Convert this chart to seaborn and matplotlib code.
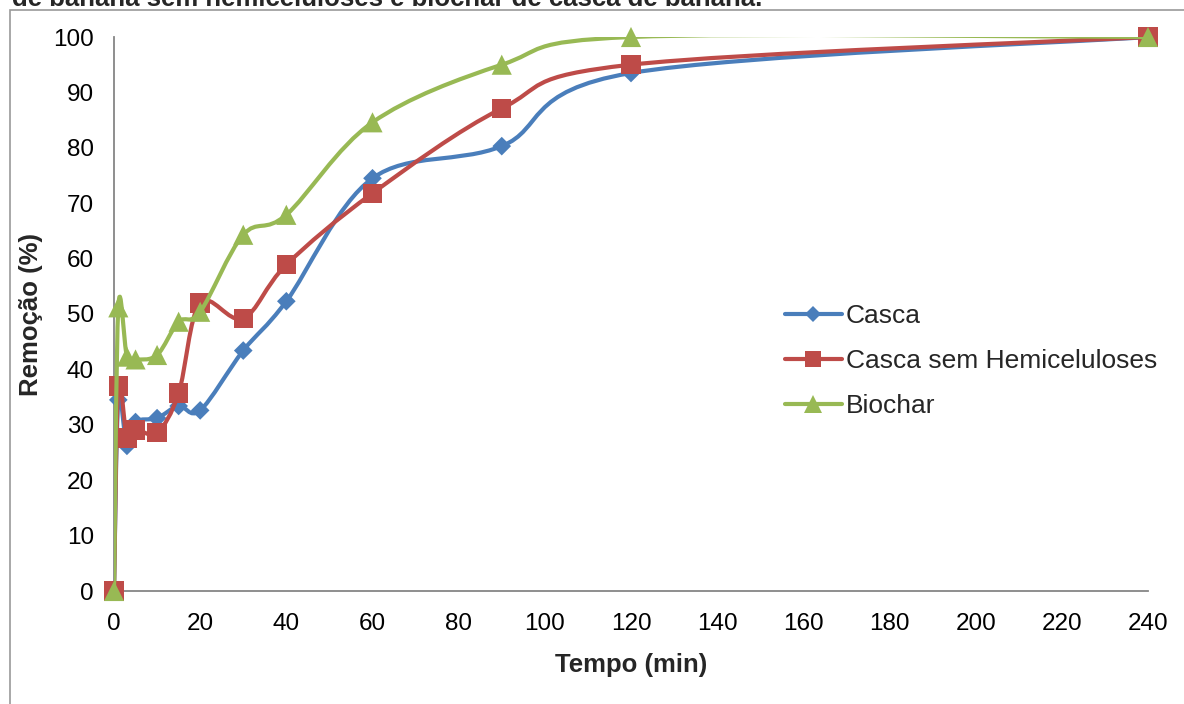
import numpy as np
import pandas as pd
import matplotlib
matplotlib.use("Agg")
import matplotlib.pyplot as plt
import seaborn as sns
from matplotlib.path import Path
from matplotlib.patches import PathPatch, Rectangle
from matplotlib.lines import Line2D

# data
tempo = [0, 1, 3, 5, 10, 15, 20, 30, 40, 60, 90, 120, 240]
casca = [0, 34.5, 26.2, 30.5, 31.2, 33.4, 32.6, 43.4, 52.3, 74.5, 80.3, 93.5, 100]
casca_sem_hemi = [0, 37.0, 27.6, 29.1, 28.6, 35.7, 52.0, 49.2, 58.9, 71.8, 87.1, 95.0, 100]
biochar = [0, 51.2, 42.3, 41.8, 42.6, 48.6, 50.4, 64.3, 67.9, 84.6, 95.0, 100, 100]

series_names = ["Casca", "Casca sem Hemiceluloses", "Biochar"]
series_values = [casca, casca_sem_hemi, biochar]
colors = ["#4A7EBB", "#BE4B48", "#98B954"]
markers = ["D", "s", "^"]
msizes = [9.5, 14, 14.5]

sns.set_theme(style="white")
plt.rcParams["font.family"] = ["Liberation Sans", "DejaVu Sans"]


def smooth_path(x, y):
    # Excel-like smoothed line: cubic Bezier segments (Catmull-Rom control points)
    pts = np.column_stack([x, y]).astype(float)
    n = len(pts)
    verts = [pts[0]]
    codes = [Path.MOVETO]
    for i in range(n - 1):
        p0 = pts[max(i - 1, 0)]
        p1 = pts[i]
        p2 = pts[i + 1]
        p3 = pts[min(i + 2, n - 1)]
        verts += [p1 + (p2 - p0) / 6, p2 - (p3 - p1) / 6, p2]
        codes += [Path.CURVE4] * 3
    return Path(verts, codes)


fig = plt.figure(figsize=(11.84, 7.04), dpi=100)
ax = fig.add_axes([114 / 1184, 1 - 591 / 704, (1148 - 114) / 1184, (591 - 37) / 704])

handles = []
for k, (name, vals) in enumerate(zip(series_names, series_values)):
    df = pd.DataFrame({"tempo": tempo, "remocao": vals})
    patch = PathPatch(smooth_path(df["tempo"], df["remocao"]), facecolor="none",
                      edgecolor=colors[k], lw=3, capstyle="round", joinstyle="round",
                      zorder=3 + 2 * k)
    ax.add_patch(patch)
    sns.scatterplot(data=df, x="tempo", y="remocao", marker=markers[k],
                    s=msizes[k] ** 2, color=colors[k], edgecolor="none",
                    zorder=4 + 2 * k, clip_on=False, ax=ax, legend=False)
    handles.append(Line2D([], [], color=colors[k], lw=3, marker=markers[k],
                          markersize=msizes[k] * 0.85, markeredgewidth=0))

ax.set_xlim(0, 240)
ax.set_ylim(0, 100)
ax.set_xticks(np.arange(0, 241, 20))
ax.set_yticks(np.arange(0, 101, 10))

for s in ["top", "right"]:
    ax.spines[s].set_visible(False)
for s in ["left", "bottom"]:
    ax.spines[s].set_color("#868686")
    ax.spines[s].set_linewidth(1.3)
ax.tick_params(axis="both", direction="out", length=4.5, width=1.1, color="#868686",
               labelsize=17.5, labelcolor="black")
ax.tick_params(axis="x", pad=11)
ax.tick_params(axis="y", pad=10)
ax.grid(False)

ax.set_xlabel("Tempo (min)", fontsize=18.5, fontweight="bold", labelpad=13)
ax.set_ylabel("Remoção (%)", fontsize=18.5, fontweight="bold", labelpad=7)

leg = ax.legend(handles, series_names, loc="upper left",
                bbox_to_anchor=(785 / 1184, 1 - 304 / 704), bbox_transform=fig.transFigure,
                frameon=False, fontsize=19, handlelength=2.15, handletextpad=0.15,
                labelspacing=0.8, borderpad=0, borderaxespad=0)

# chart border and clipped title, as in the source screenshot
fig.patches.append(Rectangle((10 / 1184, -0.1), 1.2, 1 - 10 / 704 + 0.1,
                             transform=fig.transFigure, fill=False,
                             edgecolor="#9a9a9a", lw=1.2))
fig.text(12 / 1184, 1 - 6 / 704, "de banana sem hemiceluloses e biochar de casca de banana.",
         fontsize=18.5, fontweight="bold", ha="left", va="baseline")

fig.savefig("out.png", dpi=100)
